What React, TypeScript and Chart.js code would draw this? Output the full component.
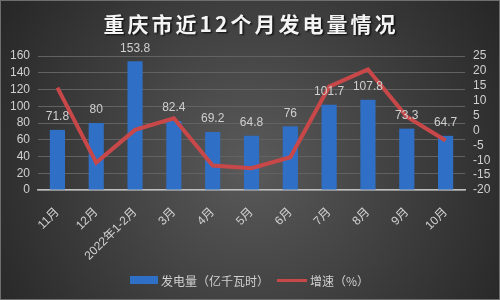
import React, { useEffect, useRef } from "react";
import { Chart, registerables } from "chart.js";

Chart.register(...registerables);

const categories = ["11月", "12月", "2022年1-2月", "3月", "4月", "5月", "6月", "7月", "8月", "9月", "10月"];
const generation = [71.8, 80, 153.8, 82.4, 69.2, 64.8, 76, 101.7, 107.8, 73.3, 64.7];
const growth = [14.4, -10.8, 0.2, 4.1, -11.8, -12.7, -9, 14.7, 20.5, 4.6, -3.4];
const titleText = "重庆市近12个月发电量情况";
const barLabel = "发电量（亿千瓦时）";
const lineLabel = "增速（%）";

const FONT = "'Liberation Sans', 'Noto Sans CJK SC', sans-serif";
const TEXT = "#d0d0d0";
const BAR = "#2f6fc6";
const LINE = "#c8484a";

const bgPlugin = {
  id: "bgPlugin",
  beforeDraw(chart: any) {
    const { ctx, width, height } = chart;
    ctx.save();
    const g = ctx.createRadialGradient(250, 165, 0, 250, 165, 300);
    g.addColorStop(0, "#5a5a5a");
    g.addColorStop(1, "#262626");
    ctx.fillStyle = g;
    ctx.fillRect(0, 0, width, height);
    ctx.strokeStyle = "#6e6e6e";
    ctx.lineWidth = 1;
    ctx.strokeRect(0.5, 0.5, width - 1, height - 1);
    // title
    ctx.font = "bold 21px 'Noto Sans CJK SC', sans-serif";
    (ctx as any).letterSpacing = "3px";
    ctx.textAlign = "center";
    ctx.textBaseline = "middle";
    ctx.shadowColor = "rgba(0,0,0,0.8)";
    ctx.shadowOffsetX = 1.5;
    ctx.shadowOffsetY = 1.5;
    ctx.shadowBlur = 2;
    ctx.fillStyle = "#f4f4f4";
    ctx.fillText(titleText, 251, 24);
    ctx.restore();
  },
  afterDraw(chart: any) {
    const { ctx } = chart;
    ctx.save();
    // legend
    ctx.fillStyle = BAR;
    ctx.fillRect(130, 276, 28, 8);
    ctx.font = "12px 'Noto Sans CJK SC', sans-serif";
    ctx.fillStyle = TEXT;
    ctx.textAlign = "left";
    ctx.textBaseline = "middle";
    ctx.fillText(barLabel, 161, 281);
    ctx.strokeStyle = LINE;
    ctx.lineWidth = 3;
    ctx.beginPath();
    ctx.moveTo(277, 280.5);
    ctx.lineTo(307, 280.5);
    ctx.stroke();
    ctx.fillText(lineLabel, 310, 281);
    ctx.restore();
  },
};

const labelPlugin = {
  id: "labelPlugin",
  afterDatasetsDraw(chart: any) {
    const { ctx } = chart;
    const idx = chart.data.datasets.findIndex((d: any) => d.type === "bar");
    const meta = chart.getDatasetMeta(idx);
    ctx.save();
    ctx.font = "12px " + FONT;
    ctx.fillStyle = TEXT;
    ctx.textAlign = "center";
    ctx.textBaseline = "bottom";
    meta.data.forEach((el: any, i: number) => {
      ctx.fillText(String(generation[i]), el.x, el.y - 7);
    });
    ctx.restore();
  },
};

export default function App() {
  const ref = useRef<HTMLCanvasElement>(null);
  useEffect(() => {
    if (!ref.current) return;
    const chart = new Chart(ref.current, {
      type: "bar",
      data: {
        labels: categories,
        datasets: [
          {
            type: "line",
            label: lineLabel,
            data: growth,
            yAxisID: "y1",
            borderColor: LINE,
            backgroundColor: LINE,
            borderWidth: 4,
            pointRadius: 0,
            tension: 0,
            order: 0,
          } as any,
          {
            type: "bar",
            label: barLabel,
            data: generation,
            yAxisID: "y",
            backgroundColor: BAR,
            barPercentage: 0.39,
            categoryPercentage: 1,
            order: 1,
          },
        ],
      },
      options: {
        responsive: false,
        animation: false,
        layout: { padding: { top: 56, bottom: 0, left: 0, right: 0 } },
        plugins: {
          legend: { display: false },
          title: { display: false },
          tooltip: { enabled: false },
        },
        scales: {
          x: {
            grid: { display: false, drawTicks: false },
            border: { display: true, color: "#c0c0c0", width: 1.5 },
            ticks: {
              color: TEXT,
              font: { size: 12, family: FONT },
              minRotation: 45,
              maxRotation: 45,
              padding: 15,
              autoSkip: false,
            },
            afterFit: (s: any) => {
              s.height = 110;
            },
          },
          y: {
            position: "left",
            min: 0,
            max: 160,
            ticks: { stepSize: 20, autoSkip: false, color: TEXT, font: { size: 12, family: FONT }, padding: 8 },
            grid: { color: "#626262", lineWidth: 1, drawTicks: false },
            border: { display: false },
            afterFit: (s: any) => {
              s.width = 38;
            },
          },
          y1: {
            position: "right",
            min: -20,
            max: 25,
            ticks: { stepSize: 5, autoSkip: false, color: TEXT, font: { size: 12, family: FONT }, padding: 8 },
            grid: { display: false, drawTicks: false },
            border: { display: false },
            afterFit: (s: any) => {
              s.width = 35;
            },
          },
        },
      },
      plugins: [bgPlugin, labelPlugin],
    });
    return () => chart.destroy();
  }, []);
  return (
    <div style={{ position: "fixed", left: 0, top: 0, width: 500, height: 300 }}>
      <canvas ref={ref} width={500} height={300} style={{ display: "block" }} />
    </div>
  );
}
